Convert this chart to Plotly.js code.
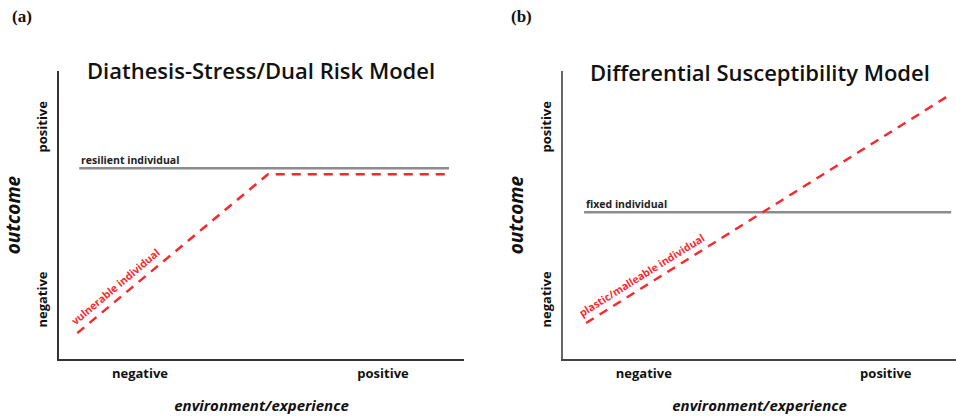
<!DOCTYPE html>
<html><head><meta charset="utf-8">
<script src="https://cdn.plot.ly/plotly-3.0.1.min.js"></script>
<style>body{margin:0;padding:0;background:#fff}#chart{width:956px;height:416px}</style>
</head><body><div id="chart"></div>
<script>
// ---- data ----
const envTickVals = [2, 8];
const envTickText = ['negative', 'positive'];
const outTickVals = [2, 8];
const outTickText = ['negative', 'positive'];

// Panel (a): Diathesis-Stress / Dual Risk
const resilientX = [0.5, 9.63];
const resilientY = [6.63, 6.63];
const vulnerableX = [0.45, 5.16, 9.63];
const vulnerableY = [0.9, 6.42, 6.42];

// Panel (b): Differential Susceptibility
const fixedX = [0.52, 9.62];
const fixedY = [5.1, 5.1];
const plasticX = [0.57, 9.5];
const plasticY = [1.25, 9.1];

const titleA = 'Diathesis-Stress/Dual Risk Model';
const titleB = 'Differential Susceptibility Model';

const FONT = '"Open Sans", sans-serif';
const RED = 'rgb(250,40,45)';
const GREY = 'rgb(140,140,140)';

const traces = [
  {x: resilientX, y: resilientY, xaxis:'x', yaxis:'y', mode:'lines', line:{color:GREY, width:2.5}, hoverinfo:'skip'},
  {x: vulnerableX, y: vulnerableY, xaxis:'x', yaxis:'y', mode:'lines', line:{color:RED, width:2.5, dash:'9px,7px'}, hoverinfo:'skip'},
  {x: fixedX, y: fixedY, xaxis:'x2', yaxis:'y2', mode:'lines', line:{color:GREY, width:2.5}, hoverinfo:'skip'},
  {x: plasticX, y: plasticY, xaxis:'x2', yaxis:'y2', mode:'lines', line:{color:RED, width:2.5, dash:'9px,7px'}, hoverinfo:'skip'}
];

function xax(domain, range, lc){
  return {domain: domain, range: range, showgrid:false, zeroline:false, showline:true, linecolor:lc, linewidth:2,
    tickvals: envTickVals, ticktext: envTickText, ticks:'', ticklabelstandoff: 1,
    tickfont:{family:FONT, size:13, color:'#111', weight:'bold'},
    title:{text:'<i>environment/experience</i>', font:{family:FONT, size:15, color:'#111', weight:'bold'}, standoff: 20},
    automargin:false, fixedrange:true};
}
function yax(anchor, lc){
  return {domain:[0.137, 0.829], range:[0,10], anchor: anchor, showgrid:false, zeroline:false, showline:true, linecolor:lc, linewidth:2,
    tickvals: outTickVals, ticktext: outTickText, ticks:'', tickangle:-90, ticklabelstandoff: 5,
    tickfont:{family:FONT, size:13, color:'#111', weight:'bold'},
    title:{text:'<i>outcome</i>', font:{family:FONT, size:19, color:'#111', weight:'bold'}, standoff: 8},
    automargin:false, fixedrange:true};
}

const layout = {
  width:956, height:416, margin:{l:0, r:0, t:0, b:0},
  paper_bgcolor:'#fff', plot_bgcolor:'#fff', showlegend:false,
  xaxis: Object.assign(xax([0.0617, 0.4854], [0,10], '#333'), {anchor:'y'}),
  yaxis: yax('x', '#333'),
  xaxis2: Object.assign(xax([0.589, 1.0], [0,9.74], '#444'), {anchor:'y2'}),
  yaxis2: yax('x2', '#666'),
  annotations: [
    {xref:'paper', yref:'paper', x:22/956, y:1-17/416, xanchor:'center', yanchor:'middle', text:'<b>(a)</b>', showarrow:false, font:{family:'"Liberation Serif", serif', size:17, color:'#111'}},
    {xref:'paper', yref:'paper', x:521/956, y:1-17/416, xanchor:'center', yanchor:'middle', text:'<b>(b)</b>', showarrow:false, font:{family:'"Liberation Serif", serif', size:17, color:'#111'}},
    {xref:'paper', yref:'paper', x:261/956, y:1-70/416, xanchor:'center', yanchor:'middle', text:titleA, showarrow:false, font:{family:FONT, size:22, color:'#111', weight:600}},
    {xref:'paper', yref:'paper', x:760/956, y:1-72/416, xanchor:'center', yanchor:'middle', text:titleB, showarrow:false, font:{family:FONT, size:22, color:'#111', weight:600}},
    {xref:'x', yref:'y', x:resilientX[0], y:resilientY[0], xanchor:'left', yanchor:'bottom', yshift:-1, text:'<b>resilient individual</b>', showarrow:false, font:{family:FONT, size:10.5, color:'#222'}},
    {xref:'x', yref:'y', x:1.46, y:2.36, xshift:-3, yshift:4, text:'<b>vulnerable individual</b>', textangle:-40, showarrow:false, font:{family:FONT, size:10.5, color:RED}},
    {xref:'x2', yref:'y2', x:fixedX[0], y:fixedY[0], xanchor:'left', yanchor:'bottom', yshift:-1, text:'<b>fixed individual</b>', showarrow:false, font:{family:FONT, size:10.5, color:'#222'}},
    {xref:'x2', yref:'y2', x:2.01, y:2.81, xshift:-2, yshift:3, text:'<b>plastic/malleable individual</b>', textangle:-32, showarrow:false, font:{family:FONT, size:10.5, color:RED}}
  ]
};

Plotly.newPlot('chart', traces, layout, {displayModeBar:false, staticPlot:true});
</script></body></html>
